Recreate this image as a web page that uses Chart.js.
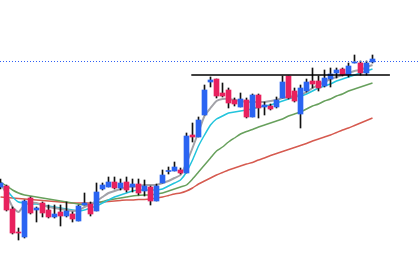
<!DOCTYPE html>
<html>
<head>
<meta charset="utf-8">
<script src="https://cdn.jsdelivr.net/npm/chart.js@4/dist/chart.umd.min.js"></script>
<style>
  html, body { margin: 0; padding: 0; background: #fff; }
  canvas { display: block; }
</style>
</head>
<body>
<canvas id="chart" width="418" height="280"></canvas>
<script>
// candle data (one entry per session)
const opens  = [93,94,71,48,43,82,70,77,70,63, 68,64,66,59,75,76,69,91,93,98, 92,98,93,96,89,93,79,97,108.5,109, 110,107,145,143,165,198,201,187,190,180, 173,180,163,185,173,174,173,182,204,189, 166,189,199,199,194,201,207,211,205,217, 217,207,218];
const highs  = [101,95,73,52,80,83,73,78,75,75, 75,78,68,75,87,78,97,97,103,103, 101,103,101,101,100,94,96,110,113,118, 112,147,157,163,195,203,201,197,192,182, 187,182,186,186,178,176,183,204,204,192, 195,201,212,204,210,212,212,212,217,225, 219,219,225];
const lows   = [91,69,46,40,42,66,58,63,62,62, 54,63,58,59,75,64,69,90,93,91, 90,88,88,85,84,75,79,97,106,109, 106,107,138,143,165,193,182,183,172,174, 173,162,163,162,165,170,172,182,181,178, 152,188,192,189,193,193,202,204,203,217, 205,205,217];
const closes = [97,70,47,47,79,67,72,67,63,66, 64,69,61,74,77,66,88,95,98,92, 97,90,96,87,94,79,94,105,109.5,113, 107,144,143,160,190,200,184,184,177,176, 181,163,185,172,175,171,180,198,182,179, 192,198,196,192,202,206,210,205,214,218, 207,217,221];

// moving averages
const maFast = [97,86,73,68,75,77,77,75,73,72, 71,70,69,70,73,76,79,83,87,89, 91,93,93.5,94,95,95,95,97,99,102, 105,117,132,148,164,172,179,181,181,180, 179,178,178,178,178,179,180,182,183,184, 185,188,192,195,198,201,203,205,207,209, 210,213,215];
const maMid  = [95,90,83,78,77,76,76,75,74,73, 72,71,70,69,70,72,74,77,80,83, 85,87,89,90,90,90,90,91,94,97, 100,108,120,134,145,155,161,164,167,168, 169,170,171,173,174,175,177,179,181,183, 184,186,189,192,194,196,199,201,203,205, 207,209,211];
const maSlow = [98,94,90,87,85,84,83,82,81,80, 79,78,77,76,75,76,77,78.5,80,81, 82,83,84,84.5,85,85,86,87,89,91, 93,95,101,108,115,122,129,133,138,142, 146,148.5,150.5,153,155,157,159,161,164,166, 168,171,174,176,179,181,184,186,189,191, 193,195,197];
const maLong = [83,82.5,82,81.5,81,80.5,80,79.5,79,78.5, 78,77.5,77,77,77,77,77.5,78,78.5,79, 79.5,80,80,80.5,80.5,81,82,83,84.5,86, 87,89,92,96,99,102,105,107.5,110,112, 114,116,117.5,120,122,124.5,126.5,128.5,130.5,132.5, 134.5,136.5,139,141,143,145,147.5,150,152,154.5, 157,159.5,162];

const resistance = 205;
const resistanceFrom = 31.8, resistanceTo = 64.9;
const lastPrice = 218.5;

const UP = '#2a64f2', DOWN = '#e8215e';
const xMin = -1 / 12, xMax = xMin + 418 / 6;

const idx = opens.map((_, i) => i);
const isUp = i => closes[i] >= opens[i];

const wicks = idx.map(i => ({ x: i, y: [lows[i], highs[i]] }));
const bodies = idx.map(i => ({ x: i, y: [Math.min(opens[i], closes[i]), Math.max(opens[i], closes[i])] }));
const series = arr => arr.map((v, i) => ({ x: i, y: v }));

function lineSet(data, color, width, order) {
  return { type: 'line', data: data, borderColor: color, borderWidth: width, pointRadius: 0, fill: false, tension: 0.2, order: order };
}

new Chart(document.getElementById('chart'), {
  type: 'bar',
  data: {
    datasets: [
      lineSet(series(maLong), '#d65a4f', 1.5, 10),
      lineSet(series(maSlow), '#67a05c', 1.5, 9),
      lineSet(series(maMid), '#22c4dc', 1.5, 8),
      lineSet(series(maFast), '#a2a2a8', 2, 7),
      { type: 'bar', data: wicks, backgroundColor: '#111', barThickness: 1, grouped: false, order: 3 },
      { type: 'bar', data: bodies, backgroundColor: idx.map(i => isUp(i) ? UP : DOWN), barThickness: 5, grouped: false, order: 2 },
      { type: 'line', data: [{ x: resistanceFrom, y: resistance }, { x: resistanceTo, y: resistance }], borderColor: '#000', borderWidth: 1.5, pointRadius: 0, order: 1 },
      { type: 'line', data: [{ x: xMin - 1, y: lastPrice }, { x: xMax + 1, y: lastPrice }], borderColor: '#2f5ff5', borderWidth: 1, borderDash: [1, 2], pointRadius: 0, order: 0 }
    ]
  },
  options: {
    responsive: false,
    animation: false,
    layout: { padding: 0 },
    plugins: { legend: { display: false }, tooltip: { enabled: false } },
    scales: {
      x: { type: 'linear', min: xMin, max: xMax, offset: false, display: false },
      y: { type: 'linear', min: 0, max: 280, display: false }
    }
  }
});
</script>
</body>
</html>
